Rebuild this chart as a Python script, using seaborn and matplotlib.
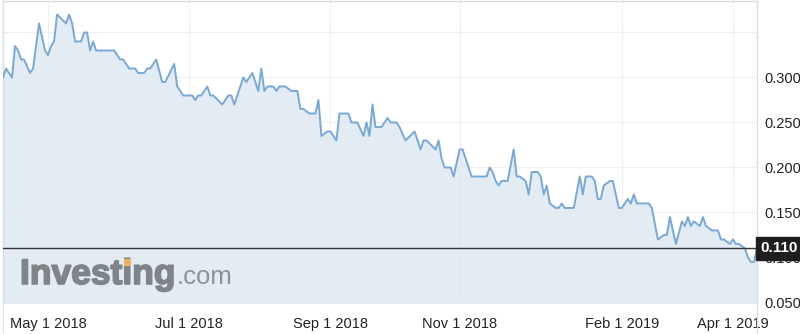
import matplotlib
matplotlib.use("Agg")
import matplotlib.pyplot as plt
import matplotlib.transforms as mtransforms
import matplotlib.patheffects as pe
from matplotlib.patches import Rectangle
import seaborn as sns
import pandas as pd

# ---- data (session index, close price) ----
session = [0, 1, 3, 4, 5, 6, 7, 9, 10, 12, 14, 15, 16, 17, 18, 21, 22, 23, 24, 26,
           27, 28, 29, 30, 31, 37, 39, 40, 42, 44, 45, 47, 48, 49, 51, 53, 54, 57, 58, 60,
           63, 64, 65, 66, 68, 69, 70, 73, 75, 76, 77, 80, 81, 83, 85, 86, 87, 88, 90, 91,
           92, 94, 96, 98, 99, 100, 102, 104, 105, 106, 108, 109, 111, 112, 115, 116, 118, 120, 121, 122,
           123, 124, 126, 128, 129, 131, 132, 134, 137, 139, 140, 141, 144, 145, 146, 147, 149, 150, 152, 153,
           155, 156, 161, 162, 163, 164, 165, 166, 168, 170, 171, 172, 174, 175, 176, 178, 179, 180, 181, 182,
           184, 185, 186, 187, 190, 192, 193, 194, 196, 197, 198, 199, 200, 202, 203, 205, 206, 208, 209, 210,
           211, 215, 216, 218, 220, 221, 222, 224, 226, 227, 228, 229, 230, 232, 233, 234, 236, 238, 239, 240,
           242, 243, 244, 245, 247, 248, 249, 250, 251]
price = [0.300, 0.310, 0.300, 0.335, 0.330, 0.320, 0.320, 0.305, 0.310, 0.360, 0.330, 0.325, 0.335, 0.340, 0.370, 0.360, 0.370, 0.360, 0.340, 0.340,
         0.350, 0.350, 0.330, 0.340, 0.330, 0.330, 0.320, 0.320, 0.310, 0.310, 0.305, 0.305, 0.310, 0.310, 0.320, 0.295, 0.295, 0.315, 0.290, 0.280,
         0.280, 0.275, 0.280, 0.280, 0.290, 0.280, 0.280, 0.270, 0.280, 0.280, 0.270, 0.300, 0.295, 0.305, 0.285, 0.310, 0.285, 0.290, 0.290, 0.285,
         0.290, 0.290, 0.285, 0.285, 0.265, 0.265, 0.260, 0.260, 0.275, 0.235, 0.240, 0.240, 0.230, 0.260, 0.260, 0.250, 0.250, 0.235, 0.250, 0.235,
         0.270, 0.245, 0.245, 0.255, 0.250, 0.250, 0.245, 0.230, 0.240, 0.220, 0.230, 0.230, 0.220, 0.230, 0.210, 0.200, 0.200, 0.190, 0.220, 0.220,
         0.200, 0.190, 0.190, 0.200, 0.195, 0.185, 0.180, 0.185, 0.185, 0.220, 0.190, 0.190, 0.185, 0.170, 0.195, 0.195, 0.190, 0.170, 0.180, 0.160,
         0.155, 0.155, 0.160, 0.155, 0.155, 0.190, 0.170, 0.190, 0.190, 0.185, 0.165, 0.165, 0.180, 0.185, 0.185, 0.155, 0.155, 0.165, 0.160, 0.170,
         0.160, 0.160, 0.155, 0.120, 0.125, 0.125, 0.145, 0.115, 0.140, 0.135, 0.145, 0.135, 0.140, 0.135, 0.145, 0.135, 0.130, 0.130, 0.120, 0.120,
         0.115, 0.120, 0.115, 0.115, 0.110, 0.100, 0.095, 0.095, 0.110]

tick_sessions = [15, 62, 109, 152, 206, 243]
tick_labels = ["May 1 2018", "Jul 1 2018", "Sep 1 2018", "Nov 1 2018", "Feb 1 2019", "Apr 1 2019"]
y_ticks = [0.050, 0.100, 0.150, 0.200, 0.250, 0.300]
last_price = 0.110

df = pd.DataFrame({"session": session, "price": price})

sns.set_style("white")
plt.rcParams["font.family"] = ["Liberation Sans", "DejaVu Sans"]

W, H = 800, 334
fig = plt.figure(figsize=(W / 100, H / 100), dpi=100)
ax = fig.add_axes([3 / W, 1 - 303 / H, 754 / W, 302 / H])

line_c = "#78a8d8"
fill_c = "#e3ecf3"
grid_c = "#e2e6ea"

ax.fill_between(df["session"], df["price"], 0, color=fill_c, lw=0, zorder=1)
sns.lineplot(data=df, x="session", y="price", ax=ax, color=line_c, lw=1.4, zorder=3)

ax.set_xlim(0, 251)
ax.set_ylim(0.0494, 0.385)

# gridlines
for t in tick_sessions:
    ax.axvline(t, color=grid_c, lw=0.8, alpha=0.6, zorder=2)
for v in y_ticks + [0.350]:
    ax.axhline(v, color=grid_c, lw=0.8, alpha=0.6, zorder=2)

ax.set_xticks(tick_sessions, tick_labels)
ax.yaxis.tick_right()
ax.set_yticks(y_ticks, [f"{v:.3f}" for v in y_ticks])
ax.tick_params(axis="x", length=0, pad=10, labelsize=10.5, colors="#222222")
ax.tick_params(axis="y", length=0, pad=5, labelsize=10.5, colors="#222222")
ax.set_xlabel("")
ax.set_ylabel("")

for s in ["top", "left", "right"]:
    ax.spines[s].set_color("#d8dde3")
    ax.spines[s].set_linewidth(1.0)
ax.spines["bottom"].set_visible(False)

# extend side borders to the bottom of the figure
fig.add_artist(plt.Line2D([3 / W, 3 / W], [0, 1 - 303 / H], color="#e3e6ea", lw=1.0))
fig.add_artist(plt.Line2D([757 / W, 757 / W], [0, 1 - 303 / H], color="#d8dde3", lw=1.0))

# current price line and label
ax.axhline(last_price, color="#333333", lw=1.0, zorder=4)
trans = mtransforms.blended_transform_factory(ax.transAxes, ax.transData)
ax.annotate(f"{last_price:.3f}", xy=(1.0, last_price), xycoords=trans,
            xytext=(2.2, 0), textcoords="offset points", ha="left", va="center",
            fontsize=11, fontweight="bold", color="white", zorder=6, annotation_clip=False,
            bbox=dict(boxstyle="square,pad=0.28", fc="#1e1e1e", ec="#1e1e1e"))

# watermark
wm_c = "#7f8489"
thick = [pe.withStroke(linewidth=1.2, foreground=wm_c)]
t1 = fig.text(20 / W, 1 - 284 / H, "Investing", fontsize=25.5, fontweight="bold",
              color=wm_c, va="baseline", ha="left", zorder=5, path_effects=thick)
fig.canvas.draw()
r = fig.canvas.get_renderer()
bb = t1.get_window_extent(r)
fig.text(bb.x1 / W + 1 / W, 1 - 284 / H, ".com", fontsize=18.5, color="#8e9297",
         va="baseline", ha="left", zorder=5)
# orange dot on the "i"
tmp = fig.text(20 / W, 1 - 284 / H, "Invest", fontsize=25.5, fontweight="bold", va="baseline", ha="left", alpha=0)
tmp2 = fig.text(20 / W, 1 - 284 / H, "Investi", fontsize=25.5, fontweight="bold", va="baseline", ha="left", alpha=0)
fig.canvas.draw()
xa = tmp.get_window_extent(r).x1
xb = tmp2.get_window_extent(r).x1
tmp.remove(); tmp2.remove()
wdot = (xb - xa) * 0.7
fig.add_artist(Rectangle(((xa + xb) / 2 - wdot / 2, H - 266), wdot, 7.5, transform=None,
                         fc="#f0b061", ec="none", zorder=6))

fig.savefig("out.png", dpi=100)
